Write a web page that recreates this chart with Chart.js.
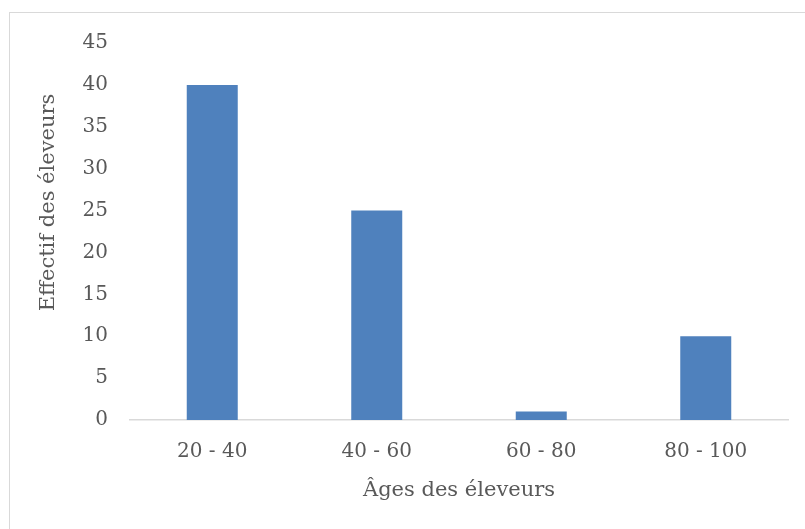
<!DOCTYPE html>
<html>
<head>
<meta charset="utf-8">
<script src="https://cdn.jsdelivr.net/npm/chart.js@4"></script>
<style>
  html, body { margin: 0; padding: 0; background: #fff; }
  #wrap { position: relative; width: 805px; height: 529px; }
  #frame { position: absolute; left: 9px; top: 12px; width: 810px; height: 530px;
           border-top: 1.5px solid #d9d9d9; border-left: 1.5px solid #d9d9d9; box-sizing: border-box; }
  canvas { position: absolute; left: 0; top: 0; }
</style>
</head>
<body>
<div id="wrap">
  <div id="frame"></div>
  <canvas id="c" width="805" height="529"></canvas>
</div>
<script>
const categories = ["20 - 40", "40 - 60", "60 - 80", "80 - 100"];
const effectifs = [40, 25, 1, 10];
const yTicks = [0, 5, 10, 15, 20, 25, 30, 35, 40, 45];
const xTitle = "Âges des éleveurs";
const yTitle = "Effectif des éleveurs";

const textColor = "#595959";
const tickFont = { family: "'DejaVu Serif', serif", size: 20 };
const titleFont = { family: "'DejaVu Serif', serif", size: 21 };

// The y title sits above the centre of the axis in the reference:
// draw it ourselves at that position.
const yTitlePlugin = {
  id: "yTitle",
  afterDraw(chart) {
    const ctx = chart.ctx;
    const area = chart.chartArea;
    ctx.save();
    ctx.fillStyle = textColor;
    ctx.font = titleFont.size + "px " + titleFont.family;
    ctx.textAlign = "center";
    ctx.textBaseline = "middle";
    ctx.translate(49, (area.top + area.bottom) / 2 - 29);
    ctx.rotate(-Math.PI / 2);
    ctx.fillText(yTitle, 0, 0);
    ctx.restore();
  }
};

new Chart(document.getElementById("c"), {
  type: "bar",
  data: {
    labels: categories,
    datasets: [{
      data: effectifs,
      backgroundColor: "#4f81bd",
      borderWidth: 0,
      categoryPercentage: 1,
      barPercentage: 0.31
    }]
  },
  options: {
    responsive: false,
    animation: false,
    layout: { padding: { left: 0, top: 43, right: 17, bottom: 0 } },
    plugins: { legend: { display: false }, tooltip: { enabled: false } },
    scales: {
      x: {
        grid: { display: false, drawTicks: false },
        border: { display: true, color: "#d9d9d9", width: 1.5 },
        ticks: { color: textColor, font: tickFont, padding: 20, maxRotation: 0 },
        title: { display: true, text: xTitle, color: textColor, font: titleFont, padding: { top: 0, bottom: 26 } },
        afterFit: s => { s.height = 109; }
      },
      y: {
        min: 0, max: 45,
        grid: { display: false, drawTicks: false },
        border: { display: false },
        afterBuildTicks: s => { s.ticks = yTicks.map(v => ({ value: v })); },
        ticks: { color: textColor, font: tickFont, padding: 22 },
        title: { display: false, text: yTitle },
        afterFit: s => { s.width = 130; }
      }
    }
  },
  plugins: [yTitlePlugin]
});
</script>
</body>
</html>
